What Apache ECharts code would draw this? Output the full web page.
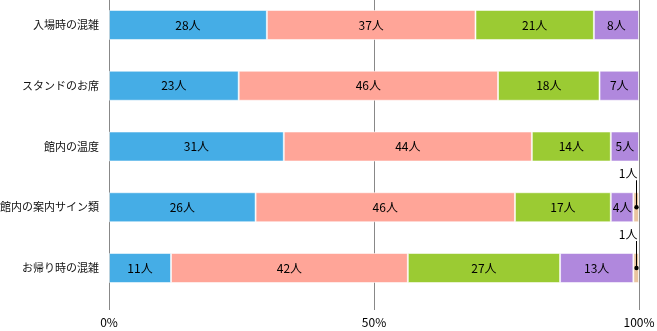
<!DOCTYPE html>
<html>
<head>
<meta charset="utf-8">
<script src="https://cdn.jsdelivr.net/npm/echarts@6/dist/echarts.min.js"></script>
<style>
  html, body { margin: 0; padding: 0; background: #fff; }
  #chart { width: 657px; height: 331px; }
</style>
</head>
<body>
<div id="chart"></div>
<script>
// Survey rows (top to bottom) and the head counts for each answer level
const categories = ['入場時の混雑', 'スタンドのお席', '館内の温度', '館内の案内サイン類', 'お帰り時の混雑'];
const level1 = [28, 23, 31, 26, 11];
const level2 = [37, 46, 44, 46, 42];
const level3 = [21, 18, 14, 17, 27];
const level4 = [8, 7, 5, 4, 13];
const level5 = [0, 0, 0, 1, 1];
const tickValues = [0, 50, 100];

const levels = [level1, level2, level3, level4, level5];
const colors = ['#45ADE6', '#FFA598', '#9BCB33', '#B088DD', '#E9C49F'];
const FONT = '"Noto Sans CJK JP", "Noto Sans", sans-serif';

const totals = categories.map((_, i) => levels.reduce((s, arr) => s + arr[i], 0));
const pct = (v, i) => v / totals[i] * 100;

const barSeries = levels.map((arr, k) => ({
  type: 'bar',
  name: 'level' + (k + 1),
  stack: 'all',
  xAxisIndex: 0,
  yAxisIndex: 0,
  barWidth: 30,
  itemStyle: { color: colors[k], borderColor: 'rgba(255,255,255,0.55)', borderWidth: 1 },
  label: {
    show: k < 4,
    position: 'inside',
    color: '#000',
    fontSize: 12,
    fontFamily: FONT,
    formatter: p => p.data.count > 1 ? p.data.count + '人' : ''
  },
  data: arr.map((v, i) => ({ value: v > 0 ? pct(v, i) : null, count: v }))
}));

// Callout for the thin last segment: dot at segment centre, vertical leader, label above
const calloutData = [];
categories.forEach((_, i) => {
  const v = level5[i];
  if (v > 0) {
    const start = level1[i] + level2[i] + level3[i] + level4[i];
    calloutData.push([pct(start + v / 2, i), i, v]);
  }
});

const calloutSeries = {
  type: 'custom',
  xAxisIndex: 0,
  yAxisIndex: 0,
  z: 5,
  data: calloutData,
  renderItem: (params, api) => {
    const pt = api.coord([api.value(0), api.value(1)]);
    const x = Math.round(pt[0]) + 0.5;
    const y = pt[1];
    return {
      type: 'group',
      children: [
        { type: 'line', shape: { x1: x, y1: y - 27, x2: x, y2: y },
          style: { stroke: '#000', lineWidth: 1 } },
        { type: 'circle', shape: { cx: x, cy: y, r: 2.2 }, style: { fill: '#000' } },
        { type: 'text', x: x + 1, y: y - 34,
          style: { text: api.value(2) + '人', fill: '#000', font: '12px ' + FONT,
                   align: 'right', verticalAlign: 'middle' } }
      ]
    };
  }
};

const chart = echarts.init(document.getElementById('chart'));
chart.setOption({
  animation: false,
  grid: [
    { left: 109, width: 530, top: -5.4, height: 303.8, outerBoundsMode: 'none', containLabel: false },
    { left: 109, width: 530, top: 0, height: 310, outerBoundsMode: 'none', containLabel: false }
  ],
  xAxis: [
    { gridIndex: 0, type: 'value', min: 0, max: 100, show: false },
    { gridIndex: 1, type: 'value', min: tickValues[0], max: tickValues[tickValues.length - 1],
      interval: tickValues[1] - tickValues[0],
      axisLine: { show: false }, axisTick: { show: false },
      splitLine: { show: true, lineStyle: { color: '#888', width: 1 } },
      axisLabel: { formatter: '{value}%', color: '#000', fontSize: 12, fontFamily: FONT, margin: 6 } }
  ],
  yAxis: [
    { gridIndex: 0, type: 'category', data: categories, inverse: true,
      axisLine: { show: false }, axisTick: { show: false },
      axisLabel: { color: '#111', fontSize: 11, fontFamily: FONT, margin: 10 } },
    { gridIndex: 1, type: 'value', show: false }
  ],
  series: [...barSeries, calloutSeries]
});
</script>
</body>
</html>
